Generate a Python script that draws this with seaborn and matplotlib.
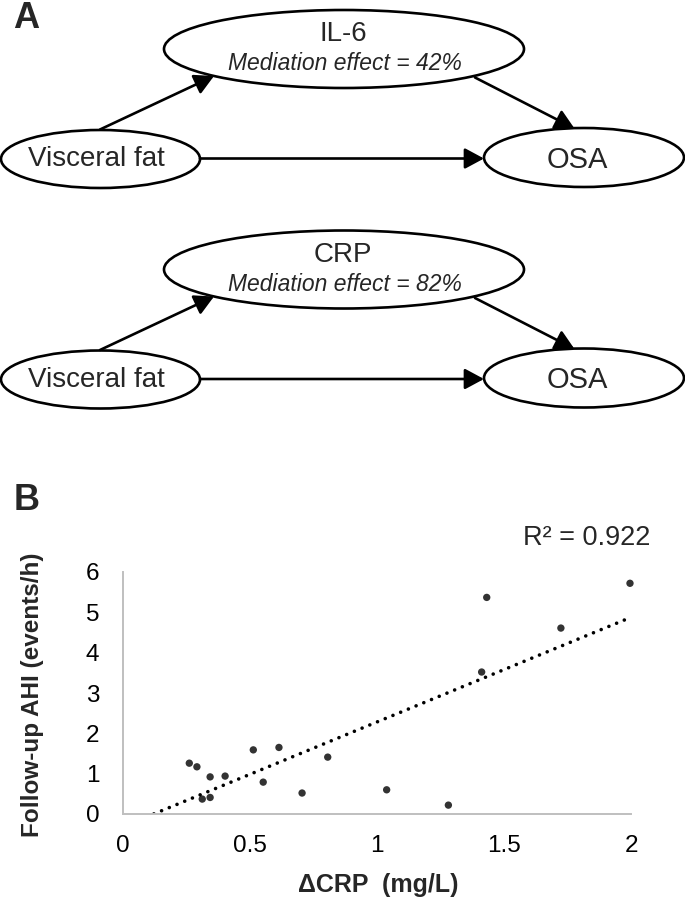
import numpy as np
import pandas as pd
import matplotlib
matplotlib.use("Agg")
import matplotlib.pyplot as plt
from matplotlib.patches import Ellipse
import seaborn as sns

# ---------------- data ----------------
delta_crp = [0.261, 0.291, 0.343, 0.402, 0.312, 0.343, 0.513, 0.614, 0.552,
             0.806, 0.705, 1.038, 1.281, 1.412, 1.432, 1.724, 1.996]
followup_ahi = [1.26, 1.17, 0.92, 0.94, 0.37, 0.41, 1.59, 1.65, 0.79,
                1.41, 0.52, 0.60, 0.22, 3.52, 5.37, 4.61, 5.72]
x_ticks = [0, 0.5, 1, 1.5, 2]
x_tick_labels = ["0", "0.5", "1", "1.5", "2"]
y_ticks = [0, 1, 2, 3, 4, 5, 6]
r2_text = "R\u00b2 = 0.922"
mediators = ["IL-6", "CRP"]
mediation_effects = ["42%", "82%"]
exposure = "Visceral fat"
outcome = "OSA"

sns.set_theme(style="white")
plt.rcParams["font.family"] = ["Liberation Sans", "DejaVu Sans"]

W, H = 685, 900
fig = plt.figure(figsize=(W / 100, H / 100), dpi=100)

# ---------------- panel A: mediation diagrams ----------------
axd = fig.add_axes([0, 0, 1, 1])
axd.set_xlim(0, W)
axd.set_ylim(H, 0)
axd.axis("off")

LW = 1.9
def node(cx, cy, w, h):
    axd.add_patch(Ellipse((cx, cy), w, h, facecolor="white", edgecolor="black", lw=LW, zorder=2))

def arrow(p0, p1):
    axd.annotate("", xy=p1, xytext=p0, xycoords="data",
                 arrowprops=dict(arrowstyle="-|>,head_length=0.78,head_width=0.42",
                                 mutation_scale=15, lw=LW, color="black",
                                 shrinkA=0, shrinkB=0), zorder=3)

for i, (med, eff) in enumerate(zip(mediators, mediation_effects)):
    oy = i * 220.5
    node(344, 49 + oy, 360, 78)
    node(100.5, 159 + oy, 199, 58)
    node(584, 157.5 + oy, 200, 59)
    axd.text(343, 34 + oy, med, ha="center", va="center", fontsize=20, zorder=4)
    axd.text(345, 64 + oy, "Mediation effect = " + eff, ha="center", va="center",
             fontsize=16.5, style="italic", zorder=4)
    axd.text(96, 159.5 + oy, exposure, ha="center", va="center", fontsize=20, zorder=4)
    axd.text(577, 159.5 + oy, outcome, ha="center", va="center", fontsize=21, zorder=4)
    arrow((100, 129.5 + oy), (214, 76 + oy))
    arrow((475, 77.5 + oy), (574.5, 128.5 + oy))
    arrow((200, 158.5 + oy), (484, 158.5 + oy))

fig.text(26 / W, 1 - 18 / H, "A", ha="center", va="center", fontsize=26, fontweight="bold")
fig.text(27 / W, 1 - 501 / H, "B", ha="center", va="center", fontsize=26, fontweight="bold")

# ---------------- panel B: scatter ----------------
left, right, bottom, top = 123, 631, 814, 572
ax = fig.add_axes([left / W, 1 - bottom / H, (right - left) / W, (bottom - top) / H])
ax.set_facecolor("none")
ax.set_xlim(0, 2)
ax.set_ylim(0, 6)

df = pd.DataFrame({"dCRP": delta_crp, "AHI": followup_ahi})
sns.regplot(data=df, x="dCRP", y="AHI", ax=ax, ci=None, truncate=False,
            scatter_kws=dict(s=28, color="black", edgecolor="none", zorder=3, clip_on=False),
            line_kws=dict(color="black", lw=2.6, linestyle=(0, (0.01, 2.3)),
                          dash_capstyle="round", zorder=2))
ax.set_xlim(0, 2)
ax.set_ylim(0, 6)

ax.set_xticks(x_ticks)
ax.set_xticklabels(x_tick_labels)
ax.set_yticks(y_ticks)
ax.tick_params(axis="both", length=0, labelsize=17.5, colors="black")
ax.tick_params(axis="x", pad=15)
ax.tick_params(axis="y", pad=17)
for s in ["top", "right"]:
    ax.spines[s].set_visible(False)
for s in ["left", "bottom"]:
    ax.spines[s].set_color("#BFBFBF")
    ax.spines[s].set_linewidth(1.4)

ax.set_xlabel("\u0394CRP  (mg/L)", fontsize=18, fontweight="bold")
ax.xaxis.set_label_coords((378.5 - left) / (right - left), -(885 - bottom) / (bottom - top))
ax.xaxis.label.set_va("center")
ax.set_ylabel("Follow-up AHI (events/h)", fontsize=17.5, fontweight="bold")
ax.yaxis.set_label_coords((33 - left) / (right - left), (bottom - 695) / (bottom - top))
ax.yaxis.label.set_va("center")
ax.yaxis.label.set_ha("center")

fig.text(523 / W, 1 - 538 / H, r2_text, ha="left", va="center", fontsize=19.5)

fig.savefig("out.png", dpi=100)
